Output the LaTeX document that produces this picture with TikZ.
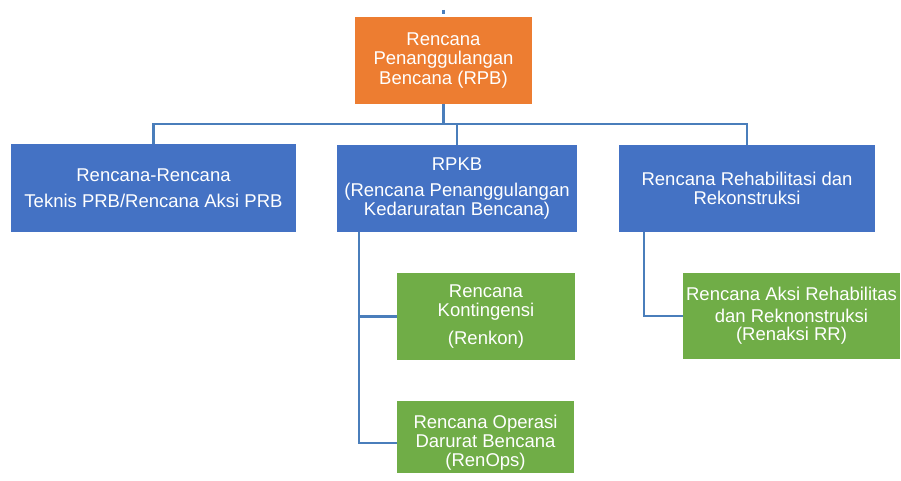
\documentclass[tikz,border=0pt]{standalone}
\usepackage{fontspec}
\setmainfont{Liberation Sans}
\definecolor{rpbOrange}{RGB}{237,125,49}
\definecolor{rpbBlue}{RGB}{68,114,196}
\definecolor{rpbGreen}{RGB}{112,173,71}
\definecolor{rpbLink}{RGB}{74,126,187}

\begin{document}
\begin{tikzpicture}[x=1pt, y=-1pt,
    box/.style={fill=#1, text=white, align=center, inner sep=1.5pt,
                font=\fontsize{18.5}{19}\selectfont},
    link/.style={draw=rpbLink, line width=2.5pt}]
        \useasboundingbox (0,0) rectangle (901,481);
        % top level
        \node[box=rpbOrange, minimum width=177, minimum height=87,
              font=\fontsize{18.5}{19.5}\selectfont] (rpb) at (443.5,60.5)
              {Rencana\\Penanggulangan\\Bencana (RPB)};
        % second level
        \node[box=rpbBlue, minimum width=285, minimum height=88] (prb) at (153.5,188)
              {Rencana-Rencana\\[7pt]Teknis PRB/Rencana Aksi PRB};
        \node[box=rpbBlue, minimum width=240, minimum height=87] (rpkb) at (457,188.5)
              {RPKB\\[7pt](Rencana Penanggulangan\\Kedaruratan Bencana)};
        \node[box=rpbBlue, minimum width=256, minimum height=87] (rr) at (747,188.5)
              {Rencana Rehabilitasi dan\\Rekonstruksi};
        % third level
        \node[box=rpbGreen, minimum width=178, minimum height=87] (renkon) at (486,316.5)
              {Rencana\\Kontingensi\\[8.5pt](Renkon)};
        \node[box=rpbGreen, minimum width=177, minimum height=72] (renops) at (485.5,437)
              {\rule{0pt}{25pt}Rencana Operasi\\Darurat Bencana\\(RenOps)};
        \node[box=rpbGreen, minimum width=217, minimum height=86] (renaksi) at (791.5,316)
              {Rencana Aksi Rehabilitas\\[3pt]dan Reknonstruksi\\[-1pt](Renaksi RR)};
        % connectors
        \coordinate (tickTop) at (443.5,10);
        \coordinate (tickEnd) at (443.5,14.5);
        \coordinate (bus) at (443.5,124);
        \coordinate (kdTrunk) at ([xshift=22pt]rpkb.south west);
        \coordinate (rrTrunk) at ([xshift=25pt]rr.south west);
        \draw[link](tickTop)--(tickEnd);
        \draw[link](rpb.south)--(bus);
        \draw[link](prb.north) |- (bus) -| (rr.north);
        \draw[link](rpkb.north)--(rpkb.north |- bus);
        \draw[link](kdTrunk) |- (renkon.west);
        \draw[link](kdTrunk) |- ([yshift=-6pt]renops.west);
        \draw[link](rrTrunk) |- (renaksi.west);
      \end{tikzpicture}
\end{document}
